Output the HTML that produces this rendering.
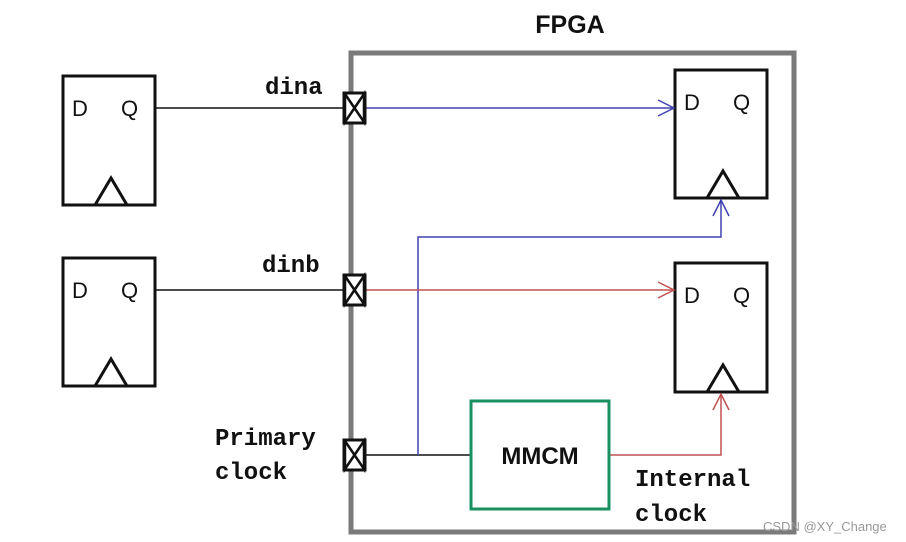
<!DOCTYPE html>
<html><head><meta charset="utf-8"><style>
html,body{margin:0;padding:0;background:#fff;width:906px;height:542px;overflow:hidden}
svg{display:block}
.m{font-family:"Liberation Mono",monospace;font-weight:bold;font-size:24px;fill:#111}
.s{font-family:"Liberation Sans",sans-serif;font-size:22px;fill:#111}
</style></head><body>
<svg width="906" height="542" viewBox="0 0 906 542" xmlns="http://www.w3.org/2000/svg">
<rect x="0" y="0" width="906" height="542" fill="#fff"/>
<text x="570" y="33" text-anchor="middle" style="font-family:'Liberation Sans',sans-serif;font-weight:bold;font-size:25px" fill="#111">FPGA</text>
<rect x="351" y="53" width="443" height="479" fill="none" stroke="#7a7a7a" stroke-width="5"/>
<!-- left FFs -->
<g fill="none" stroke="#111" stroke-width="3">
<rect x="63" y="76" width="92" height="129"/>
<polyline points="95,205 111,178 127,205"/>
<rect x="63" y="258" width="92" height="128"/>
<polyline points="95,386 111,359 127,386"/>
<rect x="675" y="70" width="92" height="128"/>
<polyline points="707,198 723,171 739,198"/>
<rect x="675" y="263" width="92" height="129"/>
<polyline points="707,392 723,365 739,392"/>
</g>
<g class="s">
<text x="72" y="116">D</text><text x="121" y="116">Q</text>
<text x="72" y="298">D</text><text x="121" y="298">Q</text>
<text x="684" y="110">D</text><text x="733" y="110">Q</text>
<text x="684" y="303">D</text><text x="733" y="303">Q</text>
</g>
<!-- black inputs -->
<g stroke="#111" stroke-width="1.5" fill="none">
<line x1="155" y1="108" x2="344" y2="108"/>
<line x1="155" y1="290" x2="344" y2="290"/>
<polyline points="366,455 471,455"/>
</g>
<!-- blue -->
<g stroke="#4040b0" stroke-width="1.5" fill="none">
<line x1="366" y1="108" x2="674" y2="108"/>
<polyline points="658,100 674,108 658,116"/>
<polyline points="418,455 418,237 721,237 721,200"/>
<polyline points="713,216 721,200 729,216"/>
</g>
<!-- red -->
<g stroke="#c05050" stroke-width="1.5" fill="none">
<line x1="366" y1="290" x2="674" y2="290"/>
<polyline points="658,282 674,290 658,298"/>
<polyline points="609,455 721,455 721,394"/>
<polyline points="713,410 721,394 729,410"/>
</g>
<!-- pads -->
<g fill="#fff" stroke="#111" stroke-width="3">
<rect x="344" y="93" width="21" height="30"/>
<rect x="344" y="275" width="21" height="30"/>
<rect x="344" y="440" width="21" height="30"/>
</g>
<g stroke="#111" stroke-width="2.5" fill="none">
<polyline points="345,94 364,122 364,94 345,122 345,94"/>
<polyline points="345,276 364,304 364,276 345,304 345,276"/>
<polyline points="345,441 364,469 364,441 345,469 345,441"/>
</g>
<!-- MMCM -->
<rect x="471" y="401" width="138" height="108" fill="#fff" stroke="#1a9060" stroke-width="3"/>
<text x="540" y="464" text-anchor="middle" style="font-family:'Liberation Sans',sans-serif;font-weight:bold;font-size:24px" fill="#111">MMCM</text>
<g class="m">
<text x="265" y="94">dina</text>
<text x="262" y="272">dinb</text>
<text x="215" y="445">Primary</text>
<text x="215" y="479">clock</text>
<text x="635" y="486">Internal</text>
<text x="635" y="521">clock</text>
</g>
<text x="763" y="531" style="font-family:'Liberation Sans',sans-serif;font-size:13px" fill="#999">CSDN @XY_Change</text>
</svg>
</body></html>
